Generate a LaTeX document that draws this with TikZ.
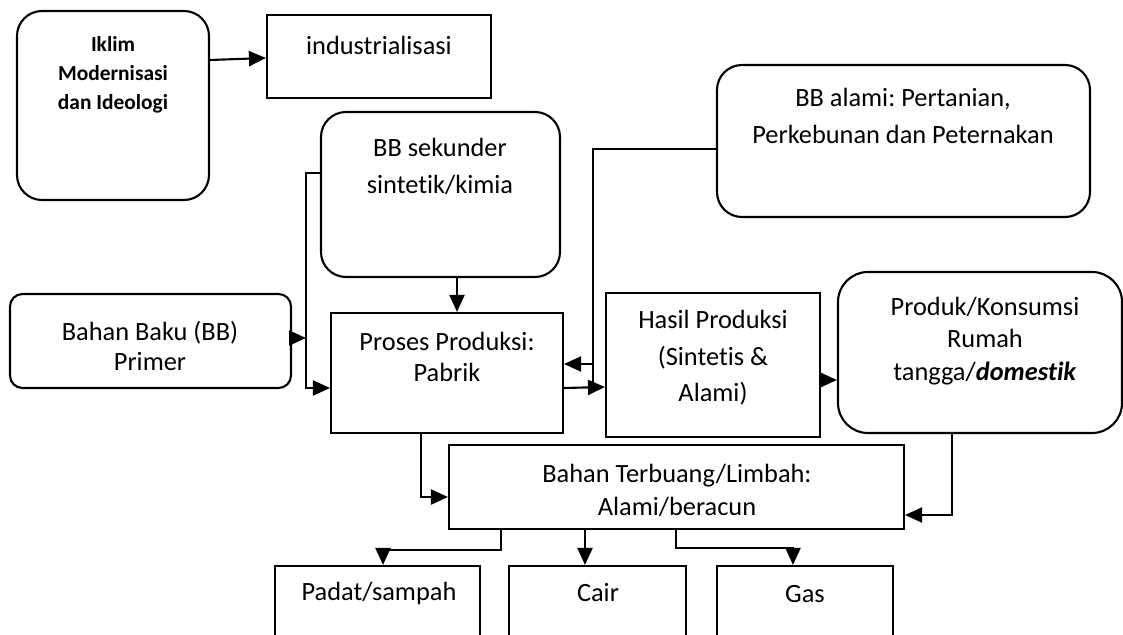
\documentclass[tikz,border=0pt]{standalone}
\usepackage{fontspec}
\setmainfont{Carlito}[Ligatures=NoCommon]
\usetikzlibrary{fit,arrows.meta}
\frenchspacing

\tikzset{
  box/.style={draw,line width=1.2pt,inner sep=0pt},
  rbox/.style={box,rounded corners=#1},
  txt/.style={align=center,inner sep=0pt,font=\fontsize{15}{18.3}\selectfont},
  arr/.style={line width=1.2pt,-{Triangle[length=0.34cm,width=0.3cm]}},
  ln/.style={line width=1.2pt}
}

\begin{document}
\begin{tikzpicture}[x=0.02cm,y=-0.02cm]
\useasboundingbox (0,0) rectangle (1123,635);

% boxes
\node[rbox=0.5cm,fit={(17,11) (209,200)}] (iklim) {};
\node[box,fit={(267,15) (491,98)}] (indus) {};
\node[rbox=0.5cm,fit={(321,112) (560,277)}] (sekunder) {};
\node[rbox=0.5cm,fit={(717,65) (1090,217)}] (alami) {};
\node[rbox=0.25cm,fit={(10,294) (291,388)}] (bahanbaku) {};
\node[box,fit={(331,313) (563,433)}] (proses) {};
\node[box,fit={(606,293) (820,437)}] (hasil) {};
\node[rbox=0.6cm,fit={(838,272) (1122,433)}] (produk) {};
\node[box,fit={(449,445) (904,529)}] (terbuang) {};
\node[box,fit={(275,566) (480,660)}] (padat) {};
\node[box,fit={(509,566) (686,660)}] (cair) {};
\node[box,fit={(717,566) (893,660)}] (gas) {};

% texts
\node[txt,font=\bfseries\fontsize{12.2}{16.5}\selectfont] (iklimtxt) at (113,75) {Iklim\\Modernisasi\\dan Ideologi};
\node[txt] (industxt) at (379,45) {industrialisasi};
\node[txt,font=\fontsize{15}{21}\selectfont] (sekundertxt) at (440,166) {BB sekunder\\sintetik/kimia};
\node[txt,font=\fontsize{15}{21.5}\selectfont] (alamitxt) at (903,116) {BB alami: Pertanian,\\Perkebunan dan Peternakan};
\node[txt,font=\fontsize{15}{17}\selectfont] (bahanbakutxt) at (150,346) {Bahan Baku (BB)\\Primer};
\node[txt,font=\fontsize{15}{17.6}\selectfont] (prosestxt) at (447,357) {Proses Produksi:\\Pabrik};
\node[txt,font=\fontsize{15}{20.7}\selectfont] (hasiltxt) at (713,358) {Hasil Produksi\\(Sintetis \&\\Alami)};
\node[txt] (produktxt) at (985,341) {Produk/Konsumsi\\Rumah\\tangga/\textbf{\textit{domestik}}};
\node[txt,font=\fontsize{15}{18.7}\selectfont] (terbuangtxt) at (677,490) {Bahan Terbuang/Limbah:\\Alami/beracun};
\node[txt] (padattxt) at (379,593) {Padat/sampah};
\node[txt] (cairtxt) at (598,593) {Cair};
\node[txt] (gastxt) at (805,594) {Gas};

%---------------------------------
\draw[arr] (iklim.east |- 0,60) -- (indus.west |- 0,58);
\draw[arr] (sekunder.south -| 457,0) -- (proses.north -| 457,0);

% left feed
\draw[arr] (sekunder.west |- 0,173) -| (306,388) -- (proses.west |- 0,388);
\draw[arr] (bahanbaku.east |- 0,338) -- (306,338);

% right feed
\draw[arr] (alami.west |- 0,149) -| (593,364) -- (proses.east |- 0,364);
\draw[ln] (593,364) -- (593,386);
\draw[arr] (proses.east |- 0,388) -- (hasil.west |- 0,387);
\draw[arr] (hasil.east |- 0,380) -- (produk.west |- 0,380);

%---------------------------------
\draw[arr] (proses.south -| 421,0) |- (terbuang.west |- 0,497);
\draw[arr] (produk.south -| 952,0) |- (terbuang.east |- 0,515);

\draw[arr] (terbuang.south -| 501,0) |- (383,550) -- (padat.north -| 383,0);
\draw[arr] (terbuang.south -| 585,0) -- (cair.north -| 585,0);
\draw[arr] (terbuang.south -| 676,0) |- (793,548) -- (gas.north -| 793,0);

\end{tikzpicture}
\end{document}
